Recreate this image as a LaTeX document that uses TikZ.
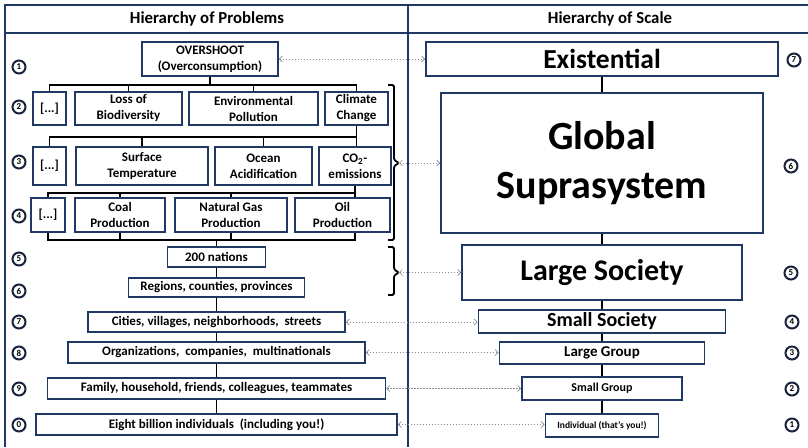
\documentclass[tikz,border=0pt]{standalone}
\usepackage{fontspec}
\setmainfont{Carlito}
\usetikzlibrary{arrows.meta}
\definecolor{navy}{RGB}{31,56,100}
\definecolor{numcol}{RGB}{25,35,60}
\definecolor{dotgray}{RGB}{140,140,140}
\begin{document}
\begin{tikzpicture}[x=1pt,y=-1pt,
  box/.style={draw=navy, line width=1.6pt, fill=white, inner sep=0pt, align=center, font=\bfseries\fontsize{13}{16}\selectfont},
  tree/.style={black, line width=1.5pt},
  chain/.style={black, line width=1.8pt},
  bracestyle/.style={black, line width=1.8pt, rounded corners=1.5pt},
  link/.style={dotgray, line width=0.7pt, dash pattern=on 1.5pt off 1.5pt, {Straight Barb[length=3pt,width=6pt]}-{Straight Barb[length=3pt,width=6pt]}},
  num/.style={circle, draw=numcol, line width=2pt, inner sep=0pt, minimum size=13pt, font=\bfseries\fontsize{9}{9}\selectfont},
  frame/.style={navy, line width=1.6pt},
  head/.style={font=\bfseries\fontsize{16.8}{17}\selectfont}
]
\useasboundingbox (0,0) rectangle (808,447);
\fill[white] (0,0) rectangle (808,447);
% frame
\draw[frame] (5,447) -- (5,5) -- (808,5);
\draw[frame] (5,33) -- (808,33);
\draw[frame] (408,5) -- (408,447);
\node[head] (h1) at (207,19) {Hierarchy of Problems};
\node[head] (h2) at (610,19) {Hierarchy of Scale};

% left boxes
\node[box, minimum width=136pt, minimum height=34pt] (over) at (210,59) {OVERSHOOT\\(Overconsumption)};
\node[box, minimum width=33pt, minimum height=33pt] (r2a) at (49.5,108.5) {[...]};
\node[box, minimum width=107pt, minimum height=33pt] (r2b) at (128.5,108.5) {Loss of\\Biodiversity};
\node[box, minimum width=129pt, minimum height=33pt] (r2c) at (253.5,108.5) {Environmental\\Pollution};
\node[box, minimum width=63pt, minimum height=33pt] (r2d) at (356.5,108.5) {Climate\\Change};
\node[box, minimum width=33pt, minimum height=38pt] (r3a) at (49.5,166) {[...]};
\node[box, minimum width=132pt, minimum height=38pt] (r3b) at (142,166) {Surface\\Temperature};
\node[box, minimum width=97pt, minimum height=38pt] (r3c) at (263.5,166) {Ocean\\Acidification};
\node[box, minimum width=72pt, minimum height=38pt] (r3d) at (355,166) {CO\textsubscript{2}-\\emissions};
\node[box, minimum width=34pt, minimum height=34pt] (r4a) at (48,215) {[...]};
\node[box, minimum width=90pt, minimum height=34pt] (r4b) at (120,215) {Coal\\Production};
\node[box, minimum width=112pt, minimum height=34pt] (r4c) at (231,215) {Natural Gas\\Production};
\node[box, minimum width=95pt, minimum height=34pt] (r4d) at (342.5,215) {Oil\\Production};
\node[box, minimum width=98pt, minimum height=20pt] (nat) at (216.5,257) {200 nations};
\node[box, minimum width=176pt, minimum height=19pt] (reg) at (216.5,287.5) {Regions, counties, provinces};
\node[box, minimum width=257pt, minimum height=20pt] (city) at (216.5,322) {Cities, villages, neighborhoods,\ \ streets};
\node[box, minimum width=297pt, minimum height=21pt] (org) at (216.5,352.5) {Organizations,\ \ companies,\ \ multinationals};
\node[box, minimum width=338pt, minimum height=21pt] (fam) at (216.5,388.5) {Family, household, friends, colleagues, teammates};
\node[box, minimum width=361pt, minimum height=21pt] (eight) at (216.5,424.5) {Eight billion individuals\ \ (including you!)};

% right boxes
\node[box, minimum width=352pt, minimum height=34pt, font=\bfseries\fontsize{27.5}{30}\selectfont] (exi) at (602,59) {Existential};
\node[box, minimum width=322pt, minimum height=140pt, font=\bfseries\fontsize{40}{49}\selectfont] (glob) at (602,163) {Global\\Suprasystem};
\node[box, minimum width=280pt, minimum height=55pt, font=\bfseries\fontsize{30}{32}\selectfont] (lsoc) at (602,272.5) {Large Society};
\node[box, minimum width=247pt, minimum height=23pt, font=\bfseries\fontsize{20}{22}\selectfont] (ssoc) at (602,321.5) {Small Society};
\node[box, minimum width=205pt, minimum height=22pt, font=\bfseries\fontsize{15}{17}\selectfont] (lgrp) at (602,353) {Large Group};
\node[box, minimum width=160pt, minimum height=23pt, font=\bfseries\fontsize{12}{14}\selectfont] (sgrp) at (602,388.5) {Small Group};
\node[box, minimum width=113pt, minimum height=23pt, font=\bfseries\fontsize{9.5}{11}\selectfont] (ind) at (602,425.5) {Individual (that's you!)};

% tree connectors
\coordinate (bus1) at (210,85);
\coordinate (bus2) at (356.5,137);
\coordinate (bus3) at (355,193);
\coordinate (bus4) at (355,240);
\draw[tree] (over.south) -- (bus1);
\draw[tree] (r2a.north) |- (r2d.north |- bus1) -- (r2d.north);
\draw[tree] (r2b.north) -- (r2b.north |- bus1);
\draw[tree] (r2c.north) -- (r2c.north |- bus1);
\draw[tree] (r2d.south) |- (r3a.north |- bus2) -- (r3a.north);
\draw[tree] (r2d.south |- bus2) -- (r2d.south |- r3d.north);
\draw[tree] (r3b.north) -- (r3b.north |- bus2);
\draw[tree] (r3c.north) -- (r3c.north |- bus2);
\draw[tree] (r3d.south) |- (r4a.north |- bus3) -- (r4a.north);
\draw[tree] (r3d.south |- bus3) -- (r3d.south |- r4d.north);
\draw[tree] (r4b.north) -- (r4b.north |- bus3);
\draw[tree] (r4c.north) -- (r4c.north |- bus3);
\draw[tree] (r4d.south -| r3d.south) |- (r4a.south |- bus4) -- (r4a.south);
\draw[tree] (r4b.south) -- (r4b.south |- bus4);
\draw[tree] (r4c.south) -- (r4c.south |- bus4);
\draw[tree] (nat.north) -- (nat.north |- bus4);
\draw[chain] (nat.south) -- (reg.north);
\draw[chain] (reg.south) -- (city.north);
\draw[chain] (city.south) -- (org.north);
\draw[chain] (org.south) -- (fam.north);
\draw[chain] (fam.south) -- (eight.north);
% right chain
\draw[chain] (exi.south) -- (glob.north);
\draw[chain] (glob.south) -- (lsoc.north);
\draw[chain] (lsoc.south) -- (ssoc.north);
\draw[chain] (ssoc.south) -- (lgrp.north);
\draw[chain] (lgrp.south) -- (sgrp.north);
\draw[chain] (sgrp.south) -- (ind.north);

% braces
\coordinate (br1) at (399,163);
\coordinate (br2) at (399,272.5);
\draw[bracestyle] (388,85) -- (394,85) -- (394,160) -- (br1) -- (394,166) -- (394,240) -- (388,240);
\draw[bracestyle] (388,247) -- (394,247) -- (394,269.5) -- (br2) -- (394,275.5) -- (394,295) -- (388,295);

% dotted links
\draw[link] (over.east) -- (exi.west);
\draw[link] (br1) -- (glob.west |- br1);
\draw[link] (br2) -- (lsoc.west |- br2);
\draw[link] (city.east) -- (ssoc.west |- city.east);
\draw[link] (org.east) -- (lgrp.west |- org.east);
\draw[link] (fam.east) -- (sgrp.west |- fam.east);
\draw[link] (eight.east) -- (ind.west |- eight.east);

% numbers left
\node[num] (L1) at (19,67) {1};
\node[num] (L2) at (19,107) {2};
\node[num] (L3) at (19,162) {3};
\node[num] (L4) at (19,216) {4};
\node[num] (L5) at (19,259) {5};
\node[num] (L6) at (19,291) {6};
\node[num] (L7) at (19,322) {7};
\node[num] (L8) at (19,353) {8};
\node[num] (L9) at (19,389) {9};
\node[num] (L0) at (19,425) {0};
% numbers right
\node[num] (R7) at (794,60) {7};
\node[num] (R6) at (791,166) {6};
\node[num] (R5) at (791,273) {5};
\node[num] (R4) at (792,322) {4};
\node[num] (R3) at (792,353) {3};
\node[num] (R2) at (792,389) {2};
\node[num] (R1) at (792,425) {1};
\end{tikzpicture}
\end{document}
